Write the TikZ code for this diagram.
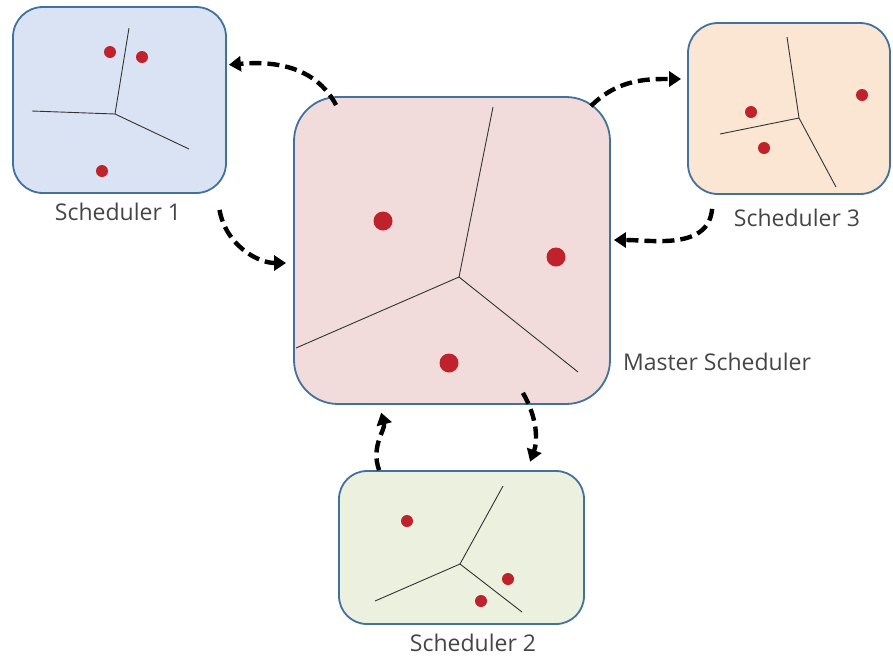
\documentclass[tikz,border=0pt]{standalone}
\usepackage{fontspec}
\setmainfont{Open Sans}
\usetikzlibrary{arrows.meta}
\definecolor{edgeblue}{HTML}{41719C}
\definecolor{fillblue}{HTML}{DAE3F3}
\definecolor{fillpink}{HTML}{F2DCDB}
\definecolor{fillpeach}{HTML}{FBE5D3}
\definecolor{fillgreen}{HTML}{EBF1DE}
\definecolor{seedred}{HTML}{C0222B}
\definecolor{labelgray}{HTML}{454545}
\definecolor{cellline}{HTML}{333333}
\tikzset{
  region/.style={draw=edgeblue, line width=1.8pt, inner sep=0pt},
  tag/.style={text=labelgray, font=\fontsize{23}{26}\selectfont, inner sep=0pt},
  cell/.style={draw=cellline, line width=0.9pt},
  sync/.style={line width=4.4pt, dash pattern=on 12pt off 6pt,
    -{Triangle[length=12pt,width=15pt]}},
}
\newcommand{\seed}[2]{\fill[seedred] (#1) circle (#2);}
\begin{document}
\begin{tikzpicture}[x=1pt, y=-1pt]
\useasboundingbox (0,0) rectangle (893,657);

% scheduler regions
\node[region, fill=fillpink, minimum width=316pt, minimum height=307pt,
      rounded corners=44pt] (m) at (452,250.5) {};
\node[region, fill=fillblue, minimum width=213pt, minimum height=186pt,
      rounded corners=30pt] (s1) at (119.5,100) {};
\node[region, fill=fillpeach, minimum width=202pt, minimum height=171pt,
      rounded corners=30pt] (s3) at (789,108.5) {};
\node[region, fill=fillgreen, minimum width=245pt, minimum height=153pt,
      rounded corners=28pt] (s2) at (461.5,547.5) {};

% labels
\node[tag] (l1) at (118,212) {Scheduler 1};
\node[tag] (l3) at (797,218) {Scheduler 3};
\node[tag] (l2) at (473,643) {Scheduler 2};
\node[tag] (lm) at (717,362) {Master Scheduler};

% master partition
\draw[cell] (459,277) -- (493,107);
\draw[cell] (459,277) -- (296,348);
\draw[cell] (459,277) -- (578,372);
\seed{383,221}{9.5}
\seed{556,257}{9.5}
\seed{449,363}{9.5}

% scheduler 1 partition
\draw[cell] (115,114) -- (129,28);
\draw[cell] (115,114) -- (32,111);
\draw[cell] (115,114) -- (189,149);
\seed{110,52}{6}
\seed{142,57}{6}
\seed{102,171}{6}

% scheduler 3 partition
\draw[cell] (799,118) -- (787,37);
\draw[cell] (799,118) -- (720,134);
\draw[cell] (799,118) -- (836,187);
\seed{751,112}{6}
\seed{764,148}{6}
\seed{862,95}{6}

% scheduler 2 partition
\draw[cell] (460,564) -- (503,486);
\draw[cell] (460,564) -- (375,601);
\draw[cell] (460,564) -- (522,612);
\seed{407,521}{6}
\seed{508,579}{6}
\seed{481,601}{6}

% exchange between master and schedulers
\draw[sync, shorten >=2pt] ([xshift=43pt,yshift=-9pt]m.north west)
  to[out=118, in=5] ([yshift=35pt]s1.east);
\draw[sync, shorten >=7pt] ([xshift=100pt,yshift=-16pt]s1.south)
  to[out=-80, in=180] ([yshift=-12.5pt]m.west);
\draw[sync, shorten >=6pt] ([xshift=-20pt,yshift=-10pt]m.north east)
  to[out=45, in=180] ([yshift=29.5pt]s3.west);
\draw[sync, shorten >=3pt] ([xshift=25pt,yshift=-14pt]s3.south west)
  to[out=-95, in=0] ([yshift=10.5pt]m.east);
\draw[sync, shorten >=8pt] ([xshift=41pt]s2.north west)
  to[out=110, in=-75] ([xshift=86pt]m.south west);
\draw[sync, shorten >=9pt] ([xshift=-88pt,yshift=12pt]m.south east)
  to[out=-60, in=70] ([xshift=189pt]s2.north west);
\end{tikzpicture}
\end{document}
